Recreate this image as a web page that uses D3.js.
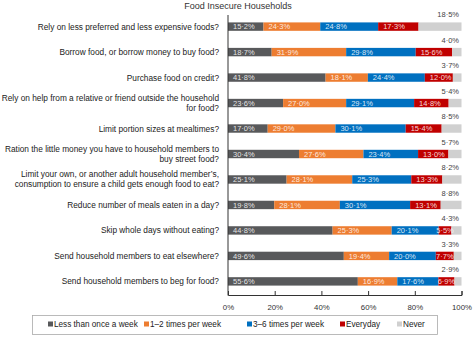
<!DOCTYPE html>
<html><head><meta charset="utf-8">
<script src="https://cdn.jsdelivr.net/npm/d3@7"></script>
<style>body{margin:0;background:#fff}svg{display:block}</style>
</head><body>
<script>
const categories = [
  ["Rely on less preferred and less expensive foods?"],
  ["Borrow food, or borrow money to buy food?"],
  ["Purchase food on credit?"],
  ["Rely on help from a relative or friend outside the household", "for food?"],
  ["Limit portion sizes at mealtimes?"],
  ["Ration the little money you have to household members to", "buy street food?"],
  ["Limit your own, or another adult household member\u2019s,", "consumption to ensure a child gets enough food to eat?"],
  ["Reduce number of meals eaten in a day?"],
  ["Skip whole days without eating?"],
  ["Send household members to eat elsewhere?"],
  ["Send household members to beg for food?"]
];
const seriesNames = ["Less than once a week", "1\u20132 times per week", "3\u20136 times per week", "Everyday", "Never"];
const lessThanOnce = [15.2, 18.7, 41.8, 23.6, 17.0, 30.4, 25.1, 19.8, 44.8, 49.6, 55.6];
const oneTwo       = [24.3, 31.9, 18.1, 27.0, 29.0, 27.6, 28.1, 28.1, 25.3, 19.4, 16.9];
const threeSix     = [24.8, 29.8, 24.4, 29.1, 30.1, 23.4, 25.3, 30.1, 20.1, 20.0, 17.6];
const everyday     = [17.3, 15.6, 12.0, 14.8, 15.4, 13.0, 13.3, 13.1, 5.5, 7.7, 6.9];
const never        = [18.5, 4.0, 3.7, 5.4, 8.5, 5.7, 8.2, 8.8, 4.3, 3.3, 2.9];
const tickValues = [0, 20, 40, 60, 80, 100];
const colors = ["#58595b", "#ed7d31", "#0070c0", "#c00000", "#d0d0d0"];

const W = 474, H = 337;
const svg = d3.select("body").append("svg").attr("width", W).attr("height", H)
  .style("font-family", "'Liberation Sans', Arial, sans-serif");

const x = d3.scaleLinear().domain([0, 100]).range([228, 461.5]);
const y = d3.scaleBand().domain(d3.range(categories.length)).range([14, 294]).paddingInner(0.67).paddingOuter(0.33);

const fmt = v => v.toFixed(1).replace(".", "\u00b7") + "%";

svg.append("text").attr("x", 238).attr("y", 9).attr("text-anchor", "middle")
  .attr("font-size", 9).attr("fill", "#333").text("Food Insecure Households");

const data = categories.map((c, i) => [lessThanOnce[i], oneTwo[i], threeSix[i], everyday[i], never[i]]);

data.forEach((vals, i) => {
  let cum = 0;
  const g = svg.append("g");
  vals.forEach((v, s) => {
    const x0 = cum;
    const x1 = s === 4 ? 100 : cum + v;
    g.append("rect").attr("x", x(x0)).attr("y", y(i)).attr("width", Math.max(0, x(x1) - x(x0)))
      .attr("height", y.bandwidth()).attr("fill", colors[s]);
    cum += v;
  });
  cum = 0;
  vals.forEach((v, s) => {
    const x0 = cum;
    if (s < 4) {
      const narrow = v < 10;
      g.append("text")
        .attr("x", narrow ? (x(x0) + x(x0 + v)) / 2 : x(x0) + 5)
        .attr("text-anchor", narrow ? "middle" : "start")
        .attr("y", y(i) + y.bandwidth() / 2 + 2.7)
        .attr("font-size", 7.5).attr("fill", "#fff").attr("fill-opacity", 0.85).text(fmt(v));
    } else {
      g.append("text").attr("x", 459).attr("y", y(i) - 5).attr("text-anchor", "end")
        .attr("font-size", 7.5).attr("fill", "#444").text(fmt(v));
    }
    cum += v;
  });
  const lines = categories[i];
  const lh = 10;
  const cy = y(i) + y.bandwidth() / 2 + 3;
  lines.forEach((t, k) => {
    svg.append("text").attr("x", 219).attr("y", cy + (k - (lines.length - 1) / 2) * lh)
      .attr("text-anchor", "end").attr("font-size", 8.3).attr("fill", "#222").text(t);
  });
});

// axes
svg.append("line").attr("x1", 228).attr("x2", 228).attr("y1", 15).attr("y2", 295.5).attr("stroke", "#333").attr("stroke-width", 1);
const ax = svg.append("g").attr("transform", "translate(0,295)")
  .call(d3.axisBottom(x).tickValues(tickValues).tickSize(-4).tickFormat(d => d + "%").tickPadding(9));
ax.select(".domain").attr("stroke", "#333");
ax.selectAll(".tick line").attr("stroke", "#333");
ax.selectAll("text").attr("font-size", 7.8).attr("fill", "#333").attr("font-family", "'Liberation Sans', Arial, sans-serif");

// legend
svg.append("rect").attr("x", 32.5).attr("y", 315.5).attr("width", 405).attr("height", 19)
  .attr("fill", "none").attr("stroke", "#aaa").attr("stroke-width", 0.8);
const legX = [48, 144, 247, 340, 397];
seriesNames.forEach((n, s) => {
  svg.append("rect").attr("x", legX[s]).attr("y", 321.5).attr("width", 5).attr("height", 5).attr("fill", colors[s]);
  svg.append("text").attr("x", legX[s] + 6).attr("y", 327).attr("font-size", 8.2).attr("fill", "#222").text(n);
});
</script>
</body></html>
